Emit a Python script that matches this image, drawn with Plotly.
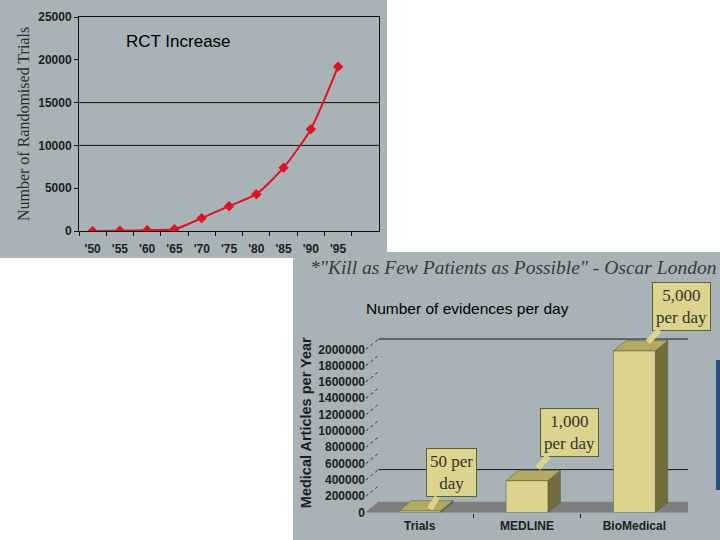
import plotly.graph_objects as go

W, H = 720, 540

# ---------------- data ----------------
years = ["'50", "'55", "'60", "'65", "'70", "'75", "'80", "'85", "'90", "'95"]
rct_trials = [0, 30, 100, 200, 1500, 2900, 4300, 7400, 11900, 19200]
rct_ticks = [0, 5000, 10000, 15000, 20000, 25000]
rct_grid = [10000, 15000]

sources = ["Trials", "MEDLINE", "BioMedical"]
articles_per_year = [18000, 390000, 1980000]
per_day_labels = ["50 per<br>day", "1,000<br>per day", "5,000<br>per day"]
articles_ticks = [0, 200000, 400000, 600000, 800000, 1000000, 1200000,
                  1400000, 1600000, 1800000, 2000000]
wall_grid = [400000, 2000000]

# ---------------- style ----------------
PANEL = "#a7b3b7"
FRONT = "#dad48c"
TOP = "#b3aa62"
SIDE = "#726d3e"
FLOOR = "#7e7e7e"
EDGE = "#55512e"
DX, DY = 0.116, 126000   # 3D depth offset in data units
BW = 0.39                # bar width (category units)


def px(x):
    return x / W


def py(y):
    return 1 - y / H


fig = go.Figure()

# ---- chart 1: RCT increase ----
fig.add_trace(go.Scatter(
    x=years, y=rct_trials, mode="lines+markers",
    line=dict(color="#e5101f", width=2, shape="spline", smoothing=0.6),
    marker=dict(symbol="diamond", size=8, color="#e5101f"),
    xaxis="x", yaxis="y", showlegend=False, hoverinfo="skip"))

# ---- chart 2: 3D bars ----
x0, x1 = -0.5, len(sources) - 0.5
fig.add_trace(go.Scatter(
    x=[x0, x1, x1 + DX, x0 + DX, x0], y=[0, 0, DY, DY, 0],
    fill="toself", fillcolor=FLOOR, mode="lines",
    line=dict(color="#6a6a6a", width=0.5),
    xaxis="x2", yaxis="y2", showlegend=False, hoverinfo="skip"))
for v in wall_grid:
    fig.add_trace(go.Scatter(
        x=[x0 + DX, x1 + DX + 0.03], y=[v + DY, v + DY], mode="lines",
        line=dict(color="#1a1a1a", width=1),
        xaxis="x2", yaxis="y2", showlegend=False, hoverinfo="skip"))
for v in articles_ticks[1:]:
    fig.add_trace(go.Scatter(
        x=[x0, x0 + DX], y=[v, v + DY], mode="lines",
        line=dict(color="#333333", width=1, dash="dot"),
        xaxis="x2", yaxis="y2", showlegend=False, hoverinfo="skip"))
for i, v in enumerate(articles_per_year):
    l, r = i - BW / 2, i + BW / 2
    fig.add_trace(go.Scatter(
        x=[r, r, r + DX, r + DX, r], y=[0, v, v + DY, DY, 0],
        fill="toself", fillcolor=SIDE, mode="lines",
        line=dict(color=EDGE, width=0.5),
        xaxis="x2", yaxis="y2", showlegend=False, hoverinfo="skip"))
    fig.add_trace(go.Scatter(
        x=[l, r, r + DX, l + DX, l], y=[v, v, v + DY, v + DY, v],
        fill="toself", fillcolor=TOP, mode="lines",
        line=dict(color=EDGE, width=0.5),
        xaxis="x2", yaxis="y2", showlegend=False, hoverinfo="skip"))
    fig.add_trace(go.Scatter(
        x=[l, r, r, l, l], y=[0, 0, v, v, 0],
        fill="toself", fillcolor=FRONT, mode="lines",
        line=dict(color=EDGE, width=0.5),
        xaxis="x2", yaxis="y2", showlegend=False, hoverinfo="skip"))

# ---------------- shapes ----------------
shapes = [
    dict(type="rect", xref="paper", yref="paper", x0=px(0), x1=px(387),
         y0=py(258), y1=py(0), fillcolor=PANEL, line=dict(width=0), layer="below"),
    dict(type="rect", xref="paper", yref="paper", x0=px(293), x1=px(720),
         y0=py(540), y1=py(252), fillcolor=PANEL, line=dict(width=0), layer="below"),
    dict(type="rect", xref="paper", yref="paper", x0=px(716), x1=px(720),
         y0=py(490), y1=py(360), fillcolor="#2b4a86", line=dict(width=0), layer="below"),
]
for g in rct_grid:
    shapes.append(dict(type="line", xref="x domain", yref="y", x0=0, x1=1,
                       y0=g, y1=g, line=dict(color="#111111", width=1), layer="below"))

# ---------------- annotations ----------------
annotations = [
    dict(text="RCT Increase", xref="paper", yref="paper", x=px(178), y=py(41),
         xanchor="center", yanchor="middle", showarrow=False,
         font=dict(family="Liberation Sans, Arial", size=17, color="#000000")),
    dict(text="*\"Kill as Few Patients as Possible\" - Oscar London",
         xref="paper", yref="paper", x=px(513), y=py(268),
         xanchor="center", yanchor="middle", showarrow=False,
         font=dict(family="Liberation Serif, Times New Roman", size=19.5, color="#3a3a3a",
                   style="italic")),
    dict(text="Number of evidences per day", xref="paper", yref="paper",
         x=px(467), y=py(308), xanchor="center", yanchor="middle", showarrow=False,
         font=dict(family="Liberation Sans, Arial", size=15.5, color="#000000")),
]
tips = [(0.096, 43000, 22, -36), (1.10, 545000, 32, -36), (2.127, 2089000, 34, -36)]
for lab, (tx, ty, ax, ay) in zip(per_day_labels, tips):
    annotations.append(dict(
        text=lab, xref="x2", yref="y2", x=tx, y=ty, ax=ax, ay=ay,
        showarrow=True, arrowhead=0, arrowwidth=6, arrowcolor=FRONT,
        bgcolor=FRONT, bordercolor="#5f5c3a", borderwidth=1, borderpad=3,
        font=dict(family="Liberation Serif, Times New Roman", size=17, color="#333333")))

tickfont = dict(family="Liberation Sans, Arial", size=12, color="#1e1e1e", weight="bold")

fig.update_layout(
    width=W, height=H, margin=dict(l=0, r=0, t=0, b=0, autoexpand=False),
    paper_bgcolor="white", plot_bgcolor="rgba(0,0,0,0)",
    shapes=shapes, annotations=annotations, showlegend=False,
    xaxis=dict(domain=[px(79), px(379)], type="category", range=[-0.5, 10.5],
               tickson="boundaries", ticks="outside", ticklen=4, tickcolor="#111",
               showline=True, linecolor="#111", linewidth=1, mirror=True,
               showgrid=False, zeroline=False, tickfont=tickfont,
               ticklabelstandoff=7, automargin=False),
    yaxis=dict(domain=[py(231), py(17)], range=[0, 25000], tickvals=rct_ticks,
               ticktext=[str(t) for t in rct_ticks],
               ticks="outside", ticklen=4, tickcolor="#111",
               showline=True, linecolor="#111", linewidth=1, mirror=True,
               showgrid=False, zeroline=False, tickfont=tickfont, automargin=False,
               title=dict(text="Number of Randomised Trials", standoff=4,
                          font=dict(family="Liberation Serif, Times New Roman",
                                    size=16, color="#2e2e2e"))),
    xaxis2=dict(domain=[px(366), px(688)], range=[-0.5, 2.5],
                tickvals=[0, 1, 2], ticktext=sources, ticks="",
                minor=dict(tickvals=[0.5, 1.5], ticks="outside", ticklen=4,
                           tickcolor="#222"),
                showline=False, showgrid=False, zeroline=False,
                tickfont=dict(family="Liberation Sans, Arial", size=12,
                              color="#1e1e1e", weight="bold"),
                ticklabelstandoff=4, anchor="y2", automargin=False),
    yaxis2=dict(domain=[py(512.5), py(333)], range=[0, 2200000],
                tickvals=articles_ticks, ticktext=[str(t) for t in articles_ticks],
                ticks="", showline=False, showgrid=False, zeroline=False,
                tickfont=tickfont, anchor="x2", automargin=False,
                title=dict(text="Medical Articles per Year", standoff=3,
                           font=dict(family="Liberation Sans, Arial", size=14.5,
                                     color="#1e1e1e", weight="bold"))),
)

fig.write_html(
    "out.html",
    config={"displayModeBar": False},
    post_script=("document.documentElement.style.margin='0';"
                 "document.documentElement.style.overflow='hidden';"
                 "document.body.style.margin='0';"
                 "document.body.style.overflow='hidden';"))
